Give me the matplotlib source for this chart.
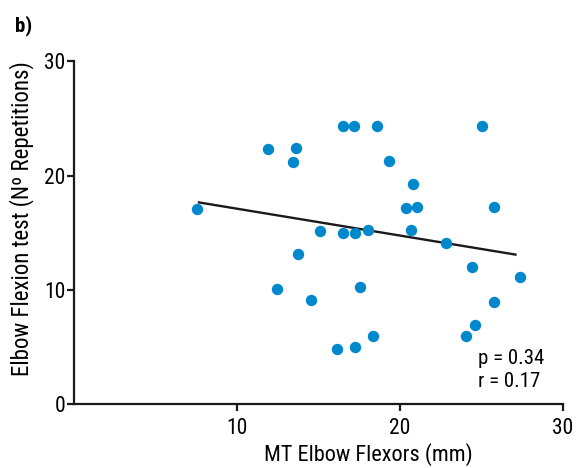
import matplotlib
matplotlib.use("Agg")
import matplotlib.pyplot as plt
from matplotlib import font_manager

names = {f.name for f in font_manager.fontManager.ttflist}
fam = "Liberation Sans"
for cand in ["Liberation Sans Narrow", "Roboto Condensed", "Open Sans Condensed", "Arial Narrow"]:
    if cand in names:
        fam = cand
        break
plt.rcParams['font.family'] = [fam, 'DejaVu Sans']

mt_x = [7.50, 11.87, 13.58, 13.44, 13.75, 12.44, 14.51, 15.10, 16.48, 17.19, 18.60,
        19.32, 16.50, 17.23, 18.03, 17.54, 16.15, 17.23, 18.36, 20.78, 20.37, 21.04,
        20.68, 22.83, 25.06, 25.76, 24.43, 27.38, 25.76, 24.61, 24.07]
reps_y = [17.06, 22.31, 22.45, 21.22, 13.20, 10.12, 9.13, 15.17, 24.34, 24.34, 24.34,
          21.28, 14.97, 14.99, 15.25, 10.29, 4.88, 5.05, 5.99, 19.25, 17.20, 17.24,
          15.25, 14.09, 24.34, 17.29, 12.02, 11.12, 8.99, 6.98, 5.99]
fit_x = [7.65, 27.09]
fit_y = [17.67, 13.11]
xticks = [10, 20, 30]
yticks = [0, 10, 20, 30]

fig = plt.figure(figsize=(5.82, 4.68), dpi=100)
ax = fig.add_axes([0.128, 0.1357, 0.839, 0.733])
ax.plot(mt_x, reps_y, 'o', color='#0088cc', markersize=8.2, markeredgewidth=0, zorder=3)
ax.plot(fit_x, fit_y, '-', color='#1a1a1a', linewidth=1.7, zorder=2)

ax.set_xlim(0, 30)
ax.set_ylim(0, 30)
ax.set_xticks(xticks)
ax.set_yticks(yticks)
ax.spines['top'].set_visible(False)
ax.spines['right'].set_visible(False)
for s in ('left', 'bottom'):
    ax.spines[s].set_linewidth(1.6)
    ax.spines[s].set_color('#1a1a1a')
ax.tick_params(axis='both', length=5, width=1.6, color='#1a1a1a', labelsize=15.5)
ax.tick_params(axis='x', pad=4.5)
ax.tick_params(axis='y', pad=1.5)
ax.set_xlabel("MT Elbow Flexors (mm)", fontsize=16)
ax.set_ylabel("Elbow Flexion test (Nº Repetitions)", fontsize=16.5)
ax.xaxis.set_label_coords(0.601, -0.112)
ax.yaxis.set_label_coords(-0.083, 0.542)

ax.text(0.826, 0.10, "p = 0.34\nr = 0.17", transform=ax.transAxes, fontsize=15,
        va='center', ha='left', linespacing=1.25)
fig.text(0.026, 0.945, "b)", fontsize=15, fontweight='bold', va='center', ha='left')

fig.savefig("out.png", dpi=100)
